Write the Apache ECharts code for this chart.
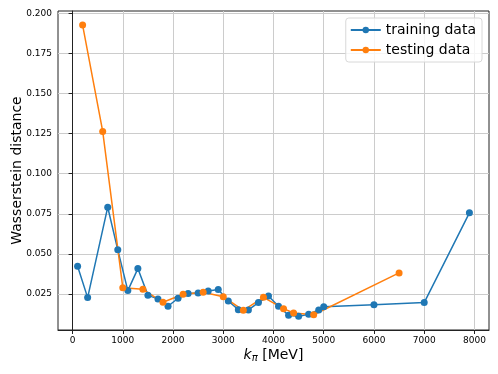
<!DOCTYPE html>
<html>
<head>
    <meta charset="utf-8">
    <title>Wasserstein distance vs k_pi</title>
    <script src="https://cdn.jsdelivr.net/npm/echarts@6.0.0/dist/echarts.min.js"></script>
    <style>
        html, body { margin: 0; padding: 0; background: #fff; }
        #chart { width: 498px; height: 374px; }
    </style>
</head>
<body>
    <div id="chart"></div>
    <script>
        // training data (blue)
        const trainK = [100, 300, 700, 900, 1100, 1300, 1500, 1700, 1900, 2100, 2300, 2500, 2700, 2900,
                        3100, 3300, 3500, 3700, 3900, 4100, 4300, 4500, 4700, 4900, 5000, 6000, 7000, 7900];
        const trainW = [0.0423, 0.0227, 0.0791, 0.0525, 0.0271, 0.0408, 0.0241, 0.0219, 0.0173, 0.0223, 0.0252, 0.0256, 0.0269, 0.0277,
                        0.0206, 0.0152, 0.0150, 0.0196, 0.0237, 0.0173, 0.0117, 0.0110, 0.0123, 0.0150, 0.0170, 0.0183, 0.0196, 0.0756];

        // testing data (orange)
        const testK = [200, 600, 1000, 1400, 1800, 2200, 2600, 3000, 3400, 3800, 4200, 4400, 4800, 6500];
        const testW = [0.1927, 0.1264, 0.0289, 0.0279, 0.0198, 0.0248, 0.0260, 0.0233, 0.0148, 0.0229, 0.0158, 0.0131, 0.0120, 0.0381];

        const xTicks = [0, 1000, 2000, 3000, 4000, 5000, 6000, 7000, 8000];
        const yTicks = [0.025, 0.05, 0.075, 0.1, 0.125, 0.15, 0.175, 0.2];

        const pair = (xs, ys) => xs.map((x, i) => [x, ys[i]]);
        const font = 'DejaVu Sans';

        const chart = echarts.init(document.getElementById('chart'));
        chart.setOption({
            animation: false,
            textStyle: { fontFamily: font },
            grid: {
                left: 58, right: 9, top: 11, bottom: 44,
                outerBoundsMode: 'none',
                containLabel: false,
                show: true,
                borderColor: '#222',
                borderWidth: 1,
                backgroundColor: 'transparent'
            },
            legend: {
                orient: 'vertical',
                right: 16,
                top: 18,
                padding: [5, 6, 5, 4],
                itemWidth: 30,
                itemHeight: 8,
                itemGap: 6,
                borderColor: '#d8d8d8',
                borderWidth: 1,
                borderRadius: 3,
                backgroundColor: 'rgba(255,255,255,0.8)',
                textStyle: { fontSize: 14, color: '#000', fontFamily: font },
                data: ['training data', 'testing data']
            },
            xAxis: {
                type: 'value',
                min: -290,
                max: 8290,
                splitNumber: 8,
                name: '{k|k}{s|π} [MeV]',
                nameLocation: 'middle',
                nameGap: 17,
                nameMoveOverlap: false,
                nameTextStyle: {
                    fontSize: 14, color: '#000', fontFamily: font,
                    rich: {
                        k: { fontSize: 14, fontStyle: 'italic', fontFamily: font, color: '#000' },
                        s: { fontSize: 10, fontStyle: 'italic', fontFamily: font, color: '#000', verticalAlign: 'bottom', padding: [6, 0, 0, 0] }
                    }
                },
                axisLine: { onZero: false, lineStyle: { color: '#222', width: 1 } },
                axisTick: { show: true, length: 4, lineStyle: { color: '#222' }, customValues: xTicks },
                axisLabel: { fontSize: 9, color: '#000', margin: 6, customValues: xTicks, formatter: v => String(v) },
                splitLine: { show: true, lineStyle: { color: '#cccccc', width: 1 } }
            },
            yAxis: {
                type: 'value',
                min: 0.0025,
                max: 0.2015,
                interval: 0.025,
                name: 'Wasserstein distance',
                nameLocation: 'middle',
                nameGap: 34,
                nameMoveOverlap: false,
                nameTextStyle: { fontSize: 14, color: '#000', fontFamily: font },
                axisLine: { show: true, lineStyle: { color: '#222', width: 1 } },
                axisTick: { show: true, length: 4, lineStyle: { color: '#222' }, customValues: yTicks },
                axisLabel: {
                    fontSize: 9, color: '#000', margin: 6, customValues: yTicks,
                    formatter: v => v.toFixed(3)
                },
                splitLine: { show: true, lineStyle: { color: '#cccccc', width: 1 } }
            },
            series: [
                {
                    name: 'training data',
                    type: 'line',
                    data: pair(trainK, trainW),
                    symbol: 'circle',
                    symbolSize: 7,
                    showAllSymbol: true,
                    color: '#1f77b4',
                    lineStyle: { width: 1.5 }
                },
                {
                    name: 'testing data',
                    type: 'line',
                    data: pair(testK, testW),
                    symbol: 'circle',
                    symbolSize: 7,
                    showAllSymbol: true,
                    color: '#ff7f0e',
                    lineStyle: { width: 1.5 }
                }
            ]
        });
    </script>
</body>
</html>
